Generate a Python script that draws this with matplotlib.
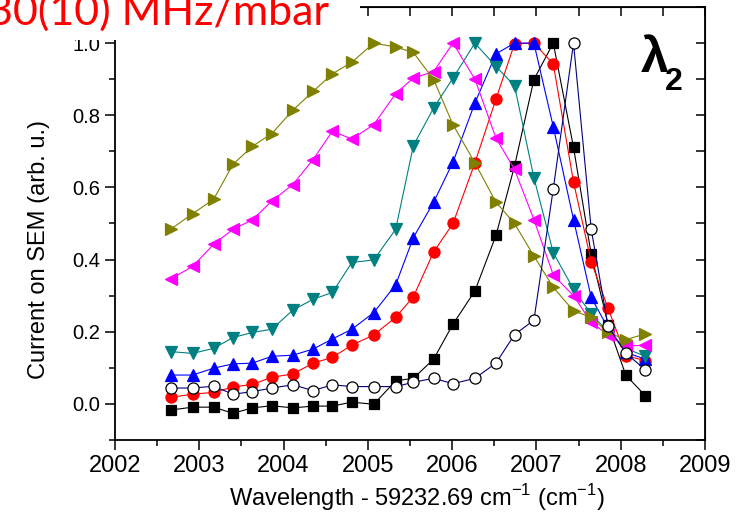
import matplotlib
matplotlib.use("Agg")
import matplotlib.pyplot as plt
from matplotlib.ticker import MultipleLocator, FormatStrFormatter
from matplotlib.patches import Rectangle

# ----------------------------
# data
# ----------------------------
wavenumber = [2002.66, 2002.92, 2003.17, 2003.40, 2003.63, 2003.86, 2004.11,
              2004.35, 2004.58, 2004.81, 2005.07, 2005.33, 2005.54, 2005.78,
              2006.01, 2006.27, 2006.52, 2006.74, 2006.97, 2007.20, 2007.44,
              2007.65, 2007.85, 2008.06, 2008.29]

black_sq = [-0.017, -0.009, -0.009, -0.026, -0.011, -0.005, -0.011, -0.006, -0.006,
            0.005, -0.001, 0.064, 0.071, 0.124, 0.221, 0.313, 0.467, 0.659, 0.899,
            1.0, 0.711, 0.415, 0.22, 0.080, 0.023]
red_circ = [0.018, 0.027, 0.032, 0.047, 0.054, 0.074, 0.083, 0.113, 0.129, 0.163,
            0.191, 0.240, 0.297, 0.421, 0.500, 0.668, 0.845, 0.998, 1.0, 0.942,
            0.615, 0.394, 0.265, 0.134, 0.120]
blue_up = [0.080, 0.080, 0.099, 0.111, 0.113, 0.132, 0.135, 0.152, 0.180, 0.207,
           0.253, 0.330, 0.461, 0.559, 0.670, 0.834, 0.970, 1.0, 1.0, 0.768,
           0.511, 0.295, 0.21, 0.143, 0.124]
teal_down = [0.145, 0.140, 0.154, 0.184, 0.198, 0.207, 0.260, 0.290, 0.309, 0.392,
             0.399, 0.484, 0.716, 0.820, 0.903, 1.0, 0.935, 0.882, 0.627, 0.419,
             0.318, 0.249, 0.20, 0.154, 0.132]
magenta_left = [0.346, 0.381, 0.442, 0.484, 0.510, 0.562, 0.608, 0.677, 0.756, 0.734,
                0.774, 0.860, 0.903, 0.921, 1.0, 0.900, 0.737, 0.650, 0.511, 0.357,
                0.300, 0.226, 0.191, 0.160, 0.163]
olive_right = [0.484, 0.527, 0.567, 0.664, 0.714, 0.749, 0.814, 0.866, 0.915, 0.947,
               1.0, 0.989, 0.974, 0.899, 0.774, 0.668, 0.559, 0.500, 0.410, 0.323,
               0.258, 0.240, 0.198, 0.178, 0.194]
open_circ = [0.044, 0.044, 0.049, 0.027, 0.034, 0.044, 0.053, 0.037, 0.053, 0.048,
             0.048, 0.048, 0.060, 0.071, 0.056, 0.071, 0.113, 0.192, 0.232, 0.596,
             1.0, 0.484, 0.215, 0.141, 0.095]

x_ticks = [2002, 2003, 2004, 2005, 2006, 2007, 2008, 2009]
y_ticks = [0.0, 0.2, 0.4, 0.6, 0.8, 1.0]

plt.rcParams['font.family'] = ['Liberation Sans', 'DejaVu Sans']
plt.rcParams['mathtext.fontset'] = 'custom'
plt.rcParams['mathtext.rm'] = 'Liberation Sans'

fig = plt.figure(figsize=(7.41, 5.23), dpi=100)
ax = fig.add_axes([115 / 741, 1 - 440 / 523, 590 / 741, 433 / 523])

series = [
    (black_sq, 's', 'black', 'black', 7),
    (red_circ, 'o', 'red', 'red', 8),
    (blue_up, '^', 'blue', 'blue', 9),
    (teal_down, 'v', '#008080', '#008080', 9),
    (magenta_left, '<', 'magenta', 'magenta', 9),
    (olive_right, '>', '#808000', '#808000', 9),
    (open_circ, 'o', '#000080', 'white', 8),
]
for vals, mk, col, face, ms in series:
    edge = 'black' if face == 'white' else col
    ax.plot(wavenumber, vals, marker=mk, color=col, lw=0.8, markersize=ms,
            markerfacecolor=face, markeredgecolor=edge, markeredgewidth=0.9)

ax.set_xlim(2002, 2009)
ax.set_ylim(-0.1, 1.1)
ax.set_xticks(x_ticks)
ax.set_yticks(y_ticks)
ax.xaxis.set_minor_locator(MultipleLocator(0.5))
ax.yaxis.set_minor_locator(MultipleLocator(0.1))
ax.yaxis.set_major_formatter(FormatStrFormatter('%.1f'))
ax.tick_params(which='major', direction='out', length=7, width=1.1)
ax.tick_params(which='minor', direction='out', length=4, width=1.1)
ax.tick_params(axis='y', labelsize=14.5)
ax.tick_params(axis='x', labelsize=17)
for sp in ax.spines.values():
    sp.set_linewidth(1.3)

# mirrored axes with inward ticks, like the original Origin plot
secx = ax.secondary_xaxis('top')
secx.set_xticks(x_ticks)
secx.xaxis.set_minor_locator(MultipleLocator(0.5))
secx.tick_params(which='both', direction='in', length=6.5, width=1.1, labeltop=False)
secy = ax.secondary_yaxis('right')
secy.set_yticks(y_ticks)
secy.yaxis.set_minor_locator(MultipleLocator(0.1))
secy.tick_params(which='both', direction='in', length=6.5, width=1.1, labelright=False)

ax.set_xlabel('Wavelength - 59232.69 cm$^{-1}$ (cm$^{-1}$)', fontsize=17)
ax.xaxis.set_label_coords(0.512, -0.098)
ax.set_ylabel('Current on SEM (arb. u.)', fontsize=17)
ax.yaxis.set_label_coords(-0.11, 0.439)

ax.text(0.891, 0.85, 'λ', transform=ax.transAxes, fontsize=36,
        fontweight='bold', va='baseline')
ax.text(0.932, 0.808, '2', transform=ax.transAxes, fontsize=23,
        fontweight='bold', va='baseline')

# red annotation, partly cut at the top edge, with a white box behind it
fig.add_artist(Rectangle((0, 1 - 40 / 523), 360 / 741, 40 / 523,
                         transform=fig.transFigure, facecolor='white',
                         edgecolor='none', zorder=5))
fig.text(-12 / 741, 1 - 25 / 523, '30(10) MHz/mbar', color='red', fontsize=31,
         family=['Lato', 'DejaVu Sans'], va='baseline', ha='left', zorder=6)

fig.savefig('out.png', dpi=100)
